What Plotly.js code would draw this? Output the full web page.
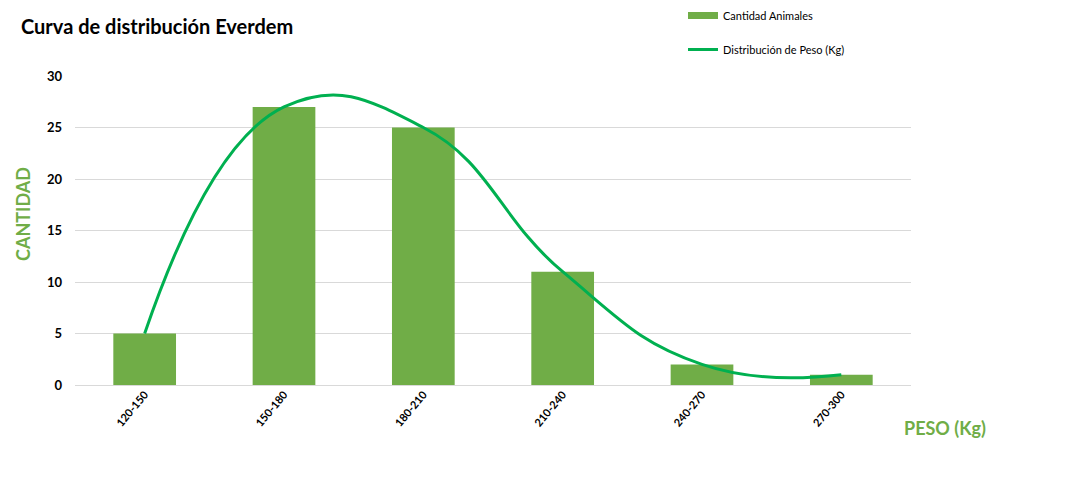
<!DOCTYPE html>
<html>
<head>
<meta charset="utf-8">
<script src="https://cdn.plot.ly/plotly-3.0.1.min.js"></script>
<style>html,body{margin:0;padding:0;background:#fff;}#chart{width:1079px;height:477px;}</style>
</head>
<body>
<div id="chart"></div>
<script>
var categories = ["120-150", "150-180", "180-210", "210-240", "240-270", "270-300"];
var cantidadAnimales = [5, 27, 25, 11, 2, 1];
var distribucionPeso = [5, 27, 25, 11, 2, 1];
var yTicks = [0, 5, 10, 15, 20, 25, 30];

var barColor = "#70AD47";
var lineColor = "#00B050";

var barTrace = {
  type: "bar",
  name: "Cantidad Animales",
  x: categories,
  y: cantidadAnimales,
  marker: {color: barColor},
  width: 0.45,
  showlegend: false
};
// legend entry for the bars (wide flat swatch like the original)
var barLegend = {
  type: "scatter",
  mode: "lines",
  name: "Cantidad Animales",
  x: [null],
  y: [null],
  line: {color: barColor, width: 7},
  legendgroup: "a"
};
var lineTrace = {
  type: "scatter",
  mode: "lines",
  name: "Distribución de Peso (Kg)",
  x: categories,
  y: distribucionPeso,
  line: {color: lineColor, width: 3, shape: "spline", smoothing: 1.3},
  legendgroup: "b"
};

var layout = {
  width: 1079,
  height: 477,
  margin: {l: 75, r: 168, t: 76, b: 92},
  paper_bgcolor: "#fff",
  plot_bgcolor: "#fff",
  font: {family: "Lato, 'Open Sans', sans-serif", color: "#000"},
  title: {
    text: "<b>Curva de distribución Everdem</b>",
    font: {size: 20, color: "#000", family: "Lato, sans-serif"},
    x: 21 / 1079, xanchor: "left", xref: "container",
    y: 1 - 27 / 477, yanchor: "middle", yref: "container"
  },
  showlegend: true,
  legend: {
    x: (683 - 75) / 836, xref: "paper", xanchor: "left",
    y: 1 - 1 / 477, yref: "container", yanchor: "top",
    traceorder: "grouped",
    tracegroupgap: 15,
    font: {size: 11, color: "#000", family: "Lato, sans-serif"},
    bgcolor: "rgba(0,0,0,0)",
    itemwidth: 30
  },
  xaxis: {
    type: "category",
    tickangle: -50,
    tickfont: {size: 11, color: "#000", family: "Lato, sans-serif", weight: "bold"},
    showgrid: false,
    showline: false,
    ticks: "",
    fixedrange: true
  },
  yaxis: {
    range: [0, 30],
    tickvals: yTicks,
    ticktext: yTicks.map(String),
    tickfont: {size: 13, color: "#000", family: "Lato, sans-serif", weight: "bold"},
    showgrid: true,
    gridcolor: "#D9D9D9",
    gridwidth: 1,
    zeroline: true,
    zerolinecolor: "#D9D9D9",
    zerolinewidth: 1,
    ticks: "",
    ticklabelstandoff: 12,
    fixedrange: true
  },
  annotations: [{
    text: "<b>PESO (Kg)</b>",
    xref: "paper", yref: "paper",
    x: (945 - 75) / 836, y: (385 - 428) / 309,
    xanchor: "center", yanchor: "middle",
    showarrow: false,
    font: {size: 18, color: barColor, family: "Lato, sans-serif"}
  }, {
    text: "<b>CANTIDAD</b>",
    xref: "paper", yref: "paper",
    x: (23 - 75) / 836, y: (385 - 214) / 309,
    xanchor: "center", yanchor: "middle",
    textangle: -90,
    showarrow: false,
    font: {size: 18, color: barColor, family: "Lato, sans-serif"}
  }]
};

Plotly.newPlot("chart", [barTrace, barLegend, lineTrace], layout, {displayModeBar: false, staticPlot: true});
</script>
</body>
</html>
